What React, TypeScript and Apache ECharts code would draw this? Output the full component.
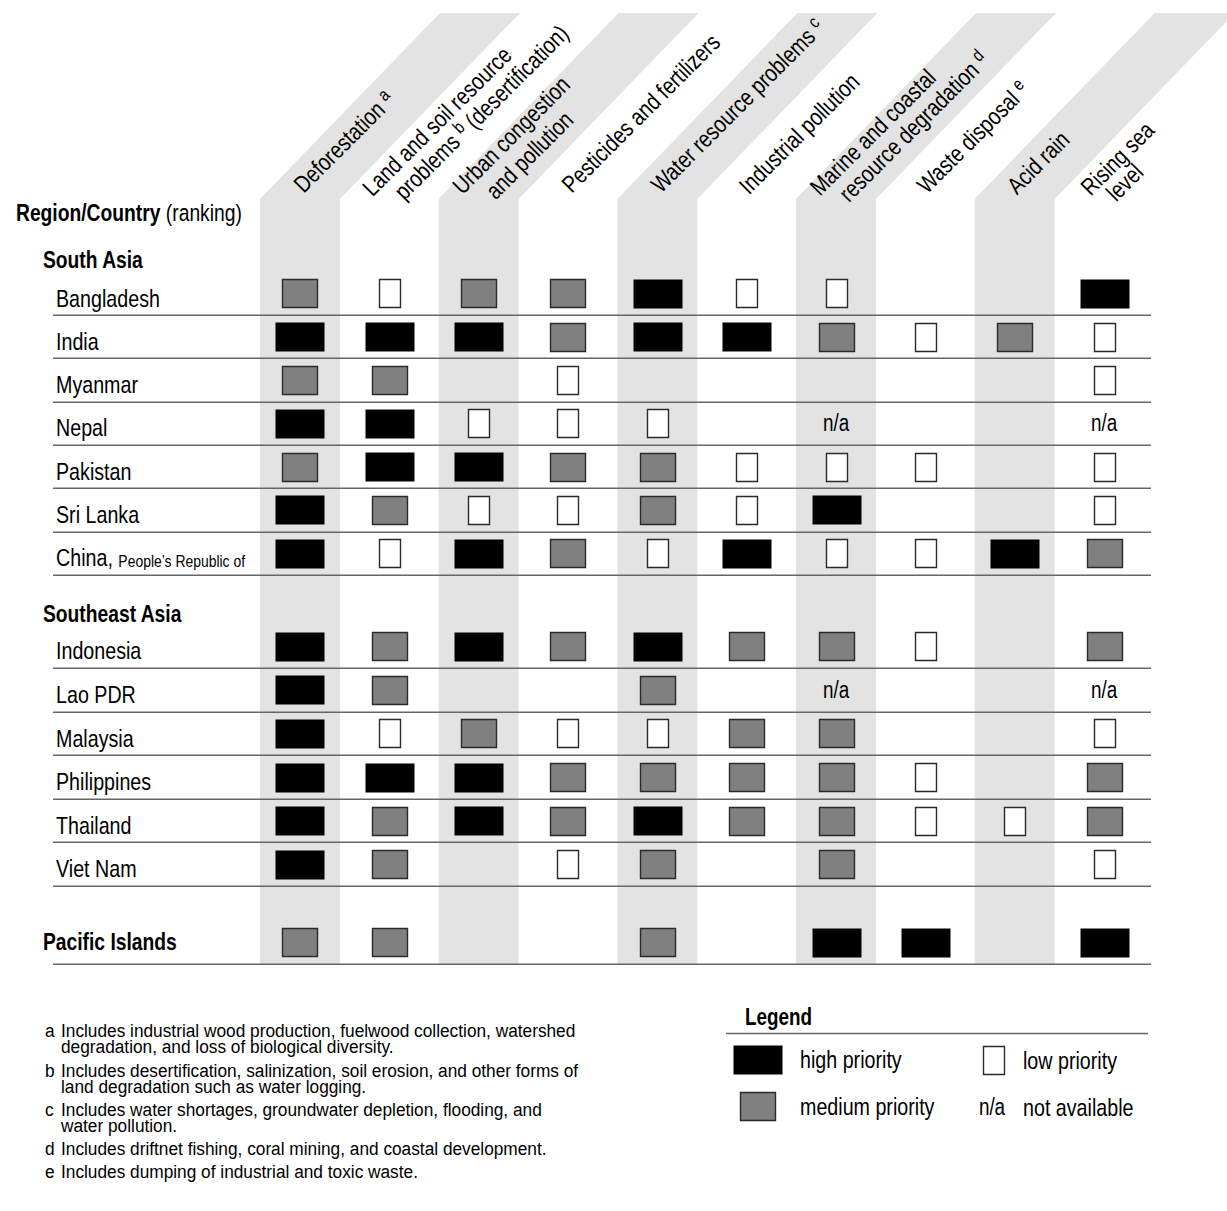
import React, { useEffect, useRef } from "react";
import * as echarts from "echarts";

// ------------------------------------------------------------------ data
const ISSUES: string[][] = [
  ["Deforestation {s|a}"],
  ["Land and soil resource", "problems {s|b} (desertification)"],
  ["Urban congestion", "and pollution"],
  ["Pesticides and fertilizers"],
  ["Water resource problems {s|c}"],
  ["Industrial pollution"],
  ["Marine and coastal", "resource degradation {s|d}"],
  ["Waste disposal {s|e}"],
  ["Acid rain"],
  ["Rising sea", "level"],
];

const SOUTH_ASIA = ["Bangladesh", "India", "Myanmar", "Nepal", "Pakistan", "Sri Lanka", "China, People\u2019s Republic of"];
const SOUTH_ASIA_RANKS = [
  ["M", "L", "M", "M", "H", "L", "L", "", "", "H"],
  ["H", "H", "H", "M", "H", "H", "M", "L", "M", "L"],
  ["M", "M", "", "L", "", "", "", "", "", "L"],
  ["H", "H", "L", "L", "L", "", "N", "", "", "N"],
  ["M", "H", "H", "M", "M", "L", "L", "L", "", "L"],
  ["H", "M", "L", "L", "M", "L", "H", "", "", "L"],
  ["H", "L", "H", "M", "L", "H", "L", "L", "H", "M"],
];

const SOUTHEAST_ASIA = ["Indonesia", "Lao PDR", "Malaysia", "Philippines", "Thailand", "Viet Nam"];
const SOUTHEAST_ASIA_RANKS = [
  ["H", "M", "H", "M", "H", "M", "M", "L", "", "M"],
  ["H", "M", "", "", "M", "", "N", "", "", "N"],
  ["H", "L", "M", "L", "L", "M", "M", "", "", "L"],
  ["H", "H", "H", "M", "M", "M", "M", "L", "", "M"],
  ["H", "M", "H", "M", "H", "M", "M", "L", "L", "M"],
  ["H", "M", "", "L", "M", "", "M", "", "", "L"],
];

const PACIFIC = ["Pacific Islands"];
const PACIFIC_RANKS = [["M", "M", "", "", "M", "", "H", "H", "", "H"]];

const REGION_TITLES = ["South Asia", "Southeast Asia"];
const CORNER_TITLE = ["Region/Country", "(ranking)"];

const LEVELS = ["H", "M", "L", "N"];
const LEGEND_TITLE = "Legend";
const LEGEND_ITEMS = [
  { code: "H", label: "high priority" },
  { code: "L", label: "low priority" },
  { code: "M", label: "medium priority" },
  { code: "N", label: "not available" },
];

const FOOTNOTES: [string, string[]][] = [
  ["a", ["Includes industrial wood production, fuelwood collection, watershed", "degradation, and loss of biological diversity."]],
  ["b", ["Includes desertification, salinization, soil erosion, and other forms of", "land degradation such as water logging."]],
  ["c", ["Includes water shortages, groundwater depletion, flooding, and", "water pollution."]],
  ["d", ["Includes driftnet fishing, coral mining, and coastal development."]],
  ["e", ["Includes dumping of industrial and toxic waste."]],
];

// ------------------------------------------------------------------ layout / style
const FONT = "'Liberation Sans', Arial, sans-serif";
const SX = 0.82; // horizontal condensation (narrow face)
const W = 1227;
const H = 1211;
const X0 = 255.3;
const XW = 893.4;
const COL_W = XW / 10;
const colX = (i: number) => X0 + (i + 0.5) * COL_W;

const GRIDS = [
  { top: 271.7, rowH: 43.3, names: SOUTH_ASIA, ranks: SOUTH_ASIA_RANKS, bold: false },
  { top: 624.4, rowH: 43.6, names: SOUTHEAST_ASIA, ranks: SOUTHEAST_ASIA_RANKS, bold: false },
  { top: 920.4, rowH: 43.6, names: PACIFIC, ranks: PACIFIC_RANKS, bold: true },
];

const BAND_COLOR = "#e3e3e3";
const BAND_W = 80;
const BAND_BOTTOM = 964;
const BAND_KNEE = 199;
const BAND_TOP = 13;
const BAND_DX = 180;

const RULE_X1 = 53;
const RULE_X2 = 1151;
const RULE_COLOR = "#666666";

const CELL: Record<string, { w: number; h: number; fill: string; stroke: string | null }> = {
  H: { w: 49, h: 29, fill: "#000000", stroke: null },
  M: { w: 35, h: 28, fill: "#808080", stroke: "#2a2a2a" },
  L: { w: 21, h: 28, fill: "#ffffff", stroke: "#2a2a2a" },
};

// header line offsets (along text, across text) relative to column base
const HEADER_BASE_Y = 196;
const HEADER_OFFSETS: number[][][] = [
  [[4, 0]],
  [[-13, -12], [7, 13]],
  [[-11, -13], [9, 14]],
  [[4, 0]],
  [[4, 0]],
  [[2, 0]],
  [[-12, -12], [4, 13]],
  [[2, -1]],
  [[2, 0]],
  [[-10, -10], [4, 12]],
];

const C45 = Math.SQRT1_2;

function textEl(x: number, y: number, text: string, size: number, extra: any = {}, align = "left", sx = SX): any {
  return {
    type: "text",
    x,
    y,
    scaleX: sx,
    silent: true,
    style: {
      text,
      fontFamily: FONT,
      fontSize: size,
      fill: "#000",
      textAlign: align,
      align,
      textVerticalAlign: "middle",
      verticalAlign: "middle",
      ...extra,
    },
  };
}

function cellShape(code: string, x: number, y: number): any {
  if (code === "N") return textEl(x, y, "n/a", 23, {}, "center");
  const c = CELL[code];
  return {
    type: "rect",
    silent: true,
    shape: { x: Math.round(x - c.w / 2) + 0.5, y: Math.round(y - c.h / 2) + 0.5, width: c.w, height: c.h },
    style: { fill: c.fill, stroke: c.stroke || "none", lineWidth: c.stroke ? 1.4 : 0 },
  };
}

function buildOption() {
  const grid: any[] = [];
  const xAxis: any[] = [];
  const yAxis: any[] = [];
  const series: any[] = [];

  GRIDS.forEach((g, gi) => {
    grid.push({ left: X0, width: XW, top: g.top, height: g.rowH * g.names.length });
    xAxis.push({
      type: "category",
      gridIndex: gi,
      data: ISSUES.map((l) => l.join(" ").replace(/\{s\|(\w)\}/g, "$1")),
      show: false,
    });
    yAxis.push({ type: "category", gridIndex: gi, inverse: true, data: g.names, show: false });

    // row labels
    series.push({
      type: "custom",
      coordinateSystem: "cartesian2d",
      xAxisIndex: gi,
      yAxisIndex: gi,
      z: 6,
      silent: true,
      clip: false,
      encode: { x: 0, y: 1 },
      data: g.names.map((_, ri) => [0, ri]),
      renderItem: (params: any, api: any) => {
        const ri = api.value(1);
        const p = api.coord([0, ri]);
        const name = g.names[ri];
        if (g.bold) return textEl(43, p[1], name, 23.5, { fontWeight: "bold" });
        const k = name.indexOf(",");
        if (k > 0) {
          return textEl(56, p[1] + 5, `{big|${name.slice(0, k + 1)}} {small|${name.slice(k + 2)}}`, 24, {
            rich: {
              big: { fontFamily: FONT, fontSize: 24, verticalAlign: "bottom", fill: "#000" },
              small: { fontFamily: FONT, fontSize: 17, verticalAlign: "bottom", fill: "#000", padding: [0, 0, 1, 0] },
            },
          });
        }
        return textEl(56, p[1] + 5, name, 24);
      },
    });

    // row rules
    series.push({
      type: "custom",
      coordinateSystem: "cartesian2d",
      xAxisIndex: gi,
      yAxisIndex: gi,
      z: 3,
      silent: true,
      clip: false,
      encode: { x: 0, y: 1 },
      data: g.names.map((_, ri) => [0, ri]),
      renderItem: (params: any, api: any) => {
        const p = api.coord([0, api.value(1)]);
        const sz = api.size([0, 1]);
        const y = Math.round(p[1] + sz[1] / 2) + 0.25;
        return {
          type: "line",
          silent: true,
          shape: { x1: RULE_X1, y1: y, x2: RULE_X2, y2: y },
          style: { stroke: RULE_COLOR, lineWidth: 1.6 },
        };
      },
    });

    // cells
    const cells: number[][] = [];
    g.ranks.forEach((row, ri) =>
      row.forEach((code, ci) => {
        if (code) cells.push([ci, ri, LEVELS.indexOf(code)]);
      })
    );
    series.push({
      type: "custom",
      coordinateSystem: "cartesian2d",
      xAxisIndex: gi,
      yAxisIndex: gi,
      z: 5,
      silent: true,
      clip: false,
      encode: { x: 0, y: 1 },
      data: cells,
      renderItem: (params: any, api: any) => {
        const p = api.coord([api.value(0), api.value(1)]);
        return cellShape(LEVELS[api.value(2)], p[0], p[1]);
      },
    });
  });

  // ---------------- graphics
  const gfx: any[] = [];
  // bands
  for (let i = 0; i < 10; i += 2) {
    const l = colX(i) - BAND_W / 2;
    const r = colX(i) + BAND_W / 2;
    gfx.push({
      type: "polygon",
      z: 0,
      silent: true,
      shape: {
        points: [
          [l, BAND_BOTTOM],
          [r, BAND_BOTTOM],
          [r, BAND_KNEE],
          [r + BAND_DX, BAND_TOP],
          [l + BAND_DX, BAND_TOP],
          [l, BAND_KNEE],
        ],
      },
      style: { fill: BAND_COLOR },
    });
  }
  // headers
  ISSUES.forEach((lines, i) => {
    lines.forEach((txt, j) => {
      const [a, b] = HEADER_OFFSETS[i][j];
      const bb = b - 7;
      const x = colX(i) + a * C45 + bb * C45;
      const y = HEADER_BASE_Y - a * C45 + bb * C45;
      const el = textEl(x, y, txt, 24, {
        lineHeight: 30,
        rich: {
          s: { fontFamily: FONT, fontSize: 18, lineHeight: 18, verticalAlign: "top", fill: "#000" },
        },
      });
      el.rotation = Math.PI / 4;
      el.z = 10;
      gfx.push(el);
    });
  });
  // corner title
  gfx.push(
    textEl(16, 213, `{b|${CORNER_TITLE[0]}} {r|${CORNER_TITLE[1]}}`, 23.5, {
      rich: {
        b: { fontFamily: FONT, fontSize: 23.5, fontWeight: "bold", fill: "#000" },
        r: { fontFamily: FONT, fontSize: 23.5, fill: "#000" },
      },
    })
  );
  // region titles
  const regionY = [260, 614];
  REGION_TITLES.forEach((t, i) => {
    gfx.push(textEl(43, regionY[i], t, 23.5, { fontWeight: "bold" }));
  });
  // footnotes
  let fy = 1031;
  FOOTNOTES.forEach(([letter, lines]) => {
    gfx.push(textEl(45, fy, letter, 18, {}, "left", 0.96));
    lines.forEach((ln, k) => gfx.push(textEl(61, fy + k * 16.3, ln, 18, {}, "left", 0.96)));
    fy += lines.length * 16.3 + 6.8;
  });
  // legend
  gfx.push(textEl(745, 1017, LEGEND_TITLE, 23, { fontWeight: "bold" }));
  gfx.push({
    type: "line",
    silent: true,
    shape: { x1: 726, y1: 1033.5, x2: 1148, y2: 1033.5 },
    style: { stroke: RULE_COLOR, lineWidth: 1.6 },
  });
  const legendPos: Record<string, { sx: number; sy: number; tx: number }> = {
    H: { sx: 757.5, sy: 1059, tx: 800 },
    L: { sx: 993, sy: 1059.5, tx: 1023 },
    M: { sx: 757, sy: 1106, tx: 800 },
    N: { sx: 992, sy: 1107, tx: 1023 },
  };
  LEGEND_ITEMS.forEach((it) => {
    const p = legendPos[it.code];
    gfx.push(cellShape(it.code, p.sx, p.sy));
    gfx.push(textEl(p.tx, p.sy + 1, it.label, 24));
  });

  return {
    animation: false,
    backgroundColor: "#ffffff",
    textStyle: { fontFamily: FONT },
    grid,
    xAxis,
    yAxis,
    series,
    graphic: { elements: gfx },
  };
}

export default function App() {
  const ref = useRef<HTMLDivElement>(null);
  useEffect(() => {
    if (!ref.current) return;
    const chart = echarts.init(ref.current, undefined, { renderer: "svg" });
    chart.setOption(buildOption() as any);
    return () => chart.dispose();
  }, []);
  return (
    <div
      ref={ref}
      style={{ position: "fixed", left: 0, top: 0, width: W, height: H, background: "#fff" }}
    />
  );
}
